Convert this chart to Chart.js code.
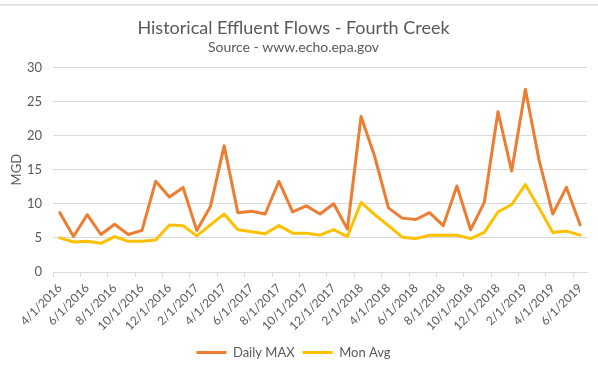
<!DOCTYPE html>
<html>
<head>
<meta charset="utf-8">
<script src="https://cdn.jsdelivr.net/npm/chart.js@4/dist/chart.umd.min.js"></script>
<style>
    html, body { margin: 0; padding: 0; background: #fff; }
    #wrap { position: relative; width: 598px; height: 369px; }
    #topline { position: absolute; left: 0; top: 4px; width: 598px; height: 2px; background: #e4e4e4; }
    canvas { position: absolute; left: 0; top: 0; }
</style>
</head>
<body>
<div id="wrap">
    <div id="topline"></div>
    <canvas id="flowChart" width="598" height="369"></canvas>
</div>
<script>
const months = [
    '4/1/2016', '5/1/2016', '6/1/2016', '7/1/2016', '8/1/2016', '9/1/2016', '10/1/2016', '11/1/2016', '12/1/2016',
    '1/1/2017', '2/1/2017', '3/1/2017', '4/1/2017', '5/1/2017', '6/1/2017', '7/1/2017', '8/1/2017', '9/1/2017',
    '10/1/2017', '11/1/2017', '12/1/2017', '1/1/2018', '2/1/2018', '3/1/2018', '4/1/2018', '5/1/2018', '6/1/2018',
    '7/1/2018', '8/1/2018', '9/1/2018', '10/1/2018', '11/1/2018', '12/1/2018', '1/1/2019', '2/1/2019', '3/1/2019',
    '4/1/2019', '5/1/2019', '6/1/2019'
];

const dailyMax = [
    8.7, 5.2, 8.4, 5.5, 7.0, 5.5, 6.1, 13.3, 11.0, 12.4, 6.1, 9.6, 18.5,
    8.7, 8.9, 8.5, 13.3, 8.8, 9.7, 8.5, 10.0, 6.3, 22.8, 16.9, 9.4,
    7.9, 7.7, 8.7, 6.8, 12.6, 6.2, 10.2, 23.5, 14.8, 26.8, 16.4, 8.5, 12.4, 6.9
];

const monAvg = [
    5.0, 4.4, 4.5, 4.2, 5.2, 4.5, 4.5, 4.7, 6.9, 6.8, 5.3, 6.9, 8.5,
    6.2, 5.9, 5.6, 6.8, 5.7, 5.7, 5.4, 6.2, 5.2, 10.2, 8.4, 6.8,
    5.1, 4.9, 5.4, 5.4, 5.4, 4.9, 5.8, 8.8, 9.9, 12.8, 9.4, 5.8, 6.0, 5.4
];

const yTicks = [0, 5, 10, 15, 20, 25, 30];

Chart.defaults.font.family = 'Lato, "Open Sans", sans-serif';
Chart.defaults.color = '#595959';

const gridColor = '#d9d9d9';

new Chart(document.getElementById('flowChart'), {
    type: 'line',
    data: {
        labels: months,
        datasets: [
            {
                label: 'Daily MAX',
                data: dailyMax,
                borderColor: '#ed7d31',
                backgroundColor: '#ed7d31',
                borderWidth: 3,
                borderJoinStyle: 'round',
                borderCapStyle: 'round',
                pointRadius: 0,
                tension: 0,
                fill: false
            },
            {
                label: 'Mon Avg',
                data: monAvg,
                borderColor: '#ffc000',
                backgroundColor: '#ffc000',
                borderWidth: 3,
                borderJoinStyle: 'round',
                borderCapStyle: 'round',
                pointRadius: 0,
                tension: 0,
                fill: false
            }
        ]
    },
    options: {
        responsive: false,
        animation: false,
        devicePixelRatio: 1,
        layout: { padding: { left: 0, right: 11, top: 0, bottom: 0 } },
        plugins: {
            title: {
                display: true,
                text: 'Historical Effluent Flows - Fourth Creek',
                font: { size: 18, weight: 'normal' },
                color: '#595959',
                padding: { top: 17, bottom: 0 }
            },
            subtitle: {
                display: true,
                text: 'Source - www.echo.epa.gov',
                font: { size: 14 },
                color: '#595959',
                padding: { top: 0, bottom: 12 }
            },
            legend: {
                position: 'bottom',
                labels: {
                    usePointStyle: true,
                    pointStyle: 'line',
                    pointStyleWidth: 30,
                    padding: 8,
                    font: { size: 13 },
                    color: '#595959'
                }
            },
            tooltip: { enabled: false }
        },
        scales: {
            x: {
                offset: true,
                grid: {
                    offset: true,
                    drawOnChartArea: false,
                    tickLength: 5,
                    tickColor: ctx => ctx.index % 2 === 0 ? gridColor : 'rgba(0,0,0,0)'
                },
                border: { color: gridColor, width: 1 },
                ticks: {
                    autoSkip: false,
                    minRotation: 45,
                    maxRotation: 45,
                    padding: 4,
                    font: { size: 12 },
                    color: '#595959',
                    callback: function (val, i) { return i % 2 === 0 ? this.getLabelForValue(val) : ''; }
                },
                afterFit: scale => { scale.height = 66; }
            },
            y: {
                min: yTicks[0],
                max: yTicks[yTicks.length - 1],
                afterBuildTicks: scale => { scale.ticks = yTicks.map(v => ({ value: v })); },
                grid: { color: gridColor, drawTicks: false },
                border: { display: false },
                ticks: { padding: 11, font: { size: 13 }, color: '#595959' },
                title: {
                    display: true,
                    text: 'MGD',
                    font: { size: 13 },
                    color: '#595959',
                    padding: { top: 9, bottom: 0 }
                },
                afterFit: scale => { scale.width = 53; }
            }
        }
    }
});
</script>
</body>
</html>
